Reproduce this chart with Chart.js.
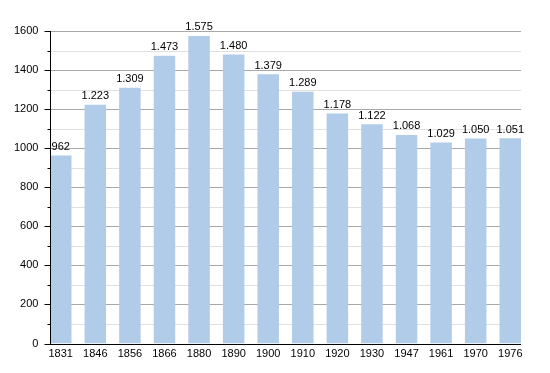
<!DOCTYPE html>
<html>
<head>
    <title>Population</title>
    <script src="https://cdn.jsdelivr.net/npm/chart.js"></script>
    <style>
        html, body { margin: 0; padding: 0; background: #fff; }
        .chart-container { width: 550px; height: 373px; }
    </style>
</head>
<body>
    <div class="chart-container">
        <canvas id="popChart" width="550" height="373"></canvas>
    </div>

    <script>
        var years = ['1831', '1846', '1856', '1866', '1880', '1890', '1900', '1910', '1920', '1930', '1947', '1961', '1970', '1976'];
        var population = [962, 1223, 1309, 1473, 1575, 1480, 1379, 1289, 1178, 1122, 1068, 1029, 1050, 1051];
        var yTicks = [0, 200, 400, 600, 800, 1000, 1200, 1400, 1600];

        var FONT = '"Liberation Sans", Arial, sans-serif';
        var plotLeft = 50.5, plotRight = 521;

        function fmt(n) {
            var s = String(n);
            return s.length > 3 ? s.slice(0, s.length - 3) + '.' + s.slice(-3) : s;
        }

        // grid, axis lines and tick marks, drawn behind the bars
        var gridPlugin = {
            id: 'grid',
            beforeDatasetsDraw: function(chart) {
                var c = chart.ctx, y = chart.scales.y;
                c.save();
                for (var v = 100; v <= 1600; v += 100) {
                    var py = Math.round(y.getPixelForValue(v)) + 0.5;
                    c.strokeStyle = v % 200 === 0 ? '#a8a8a8' : '#e0e0e0';
                    c.lineWidth = 1;
                    c.beginPath();
                    c.moveTo(plotLeft, py);
                    c.lineTo(plotRight, py);
                    c.stroke();
                }
                c.restore();
            },
            afterDatasetsDraw: function(chart) {
                var c = chart.ctx, y = chart.scales.y;
                var bottom = Math.round(y.getPixelForValue(0)) + 0.5;
                var top = Math.round(y.getPixelForValue(1600));
                c.save();
                c.strokeStyle = '#000';
                c.lineWidth = 1;
                c.beginPath();
                c.moveTo(plotLeft, top);
                c.lineTo(plotLeft, bottom);
                c.moveTo(plotLeft - 0.5, bottom);
                c.lineTo(plotRight, bottom);
                for (var v = 0; v <= 1600; v += 100) {
                    var py = Math.round(y.getPixelForValue(v)) + 0.5;
                    c.moveTo(plotLeft, py);
                    c.lineTo(plotLeft - (v % 200 === 0 ? 6 : 3), py);
                }
                c.stroke();

                // value labels above bars
                c.fillStyle = '#000';
                c.font = '11px ' + FONT;
                c.textAlign = 'center';
                c.textBaseline = 'bottom';
                chart.getDatasetMeta(0).data.forEach(function(bar, i) {
                    c.fillText(fmt(population[i]), bar.x, bar.y - 3);
                });
                c.restore();
            }
        };

        var ctx = document.getElementById('popChart').getContext('2d');
        var popChart = new Chart(ctx, {
            type: 'bar',
            data: {
                labels: years,
                datasets: [{
                    data: population,
                    backgroundColor: 'rgb(177, 204, 232)',
                    borderWidth: 0,
                    barPercentage: 0.622,
                    categoryPercentage: 1
                }]
            },
            options: {
                responsive: false,
                animation: false,
                layout: { padding: { top: 31, right: 22.45, bottom: 0, left: 0 } },
                plugins: { legend: { display: false }, tooltip: { enabled: false } },
                scales: {
                    x: {
                        offset: true,
                        grid: { display: false, drawTicks: false },
                        border: { display: false },
                        ticks: { color: '#000', font: { family: FONT, size: 11 }, padding: 4, maxRotation: 0 },
                        afterFit: function(scale) { scale.height = 29.5; }
                    },
                    y: {
                        min: 0,
                        max: 1600,
                        afterBuildTicks: function(scale) {
                            scale.ticks = yTicks.map(function(v) { return { value: v }; });
                        },
                        grid: { display: false, drawTicks: false },
                        border: { display: false },
                        ticks: {
                            color: '#000',
                            font: { family: FONT, size: 11 },
                            padding: 5,
                            callback: function(v) { return String(v); }
                        },
                        afterFit: function(scale) { scale.width = 43.45; }
                    }
                }
            },
            plugins: [gridPlugin]
        });
    </script>
</body>
</html>
